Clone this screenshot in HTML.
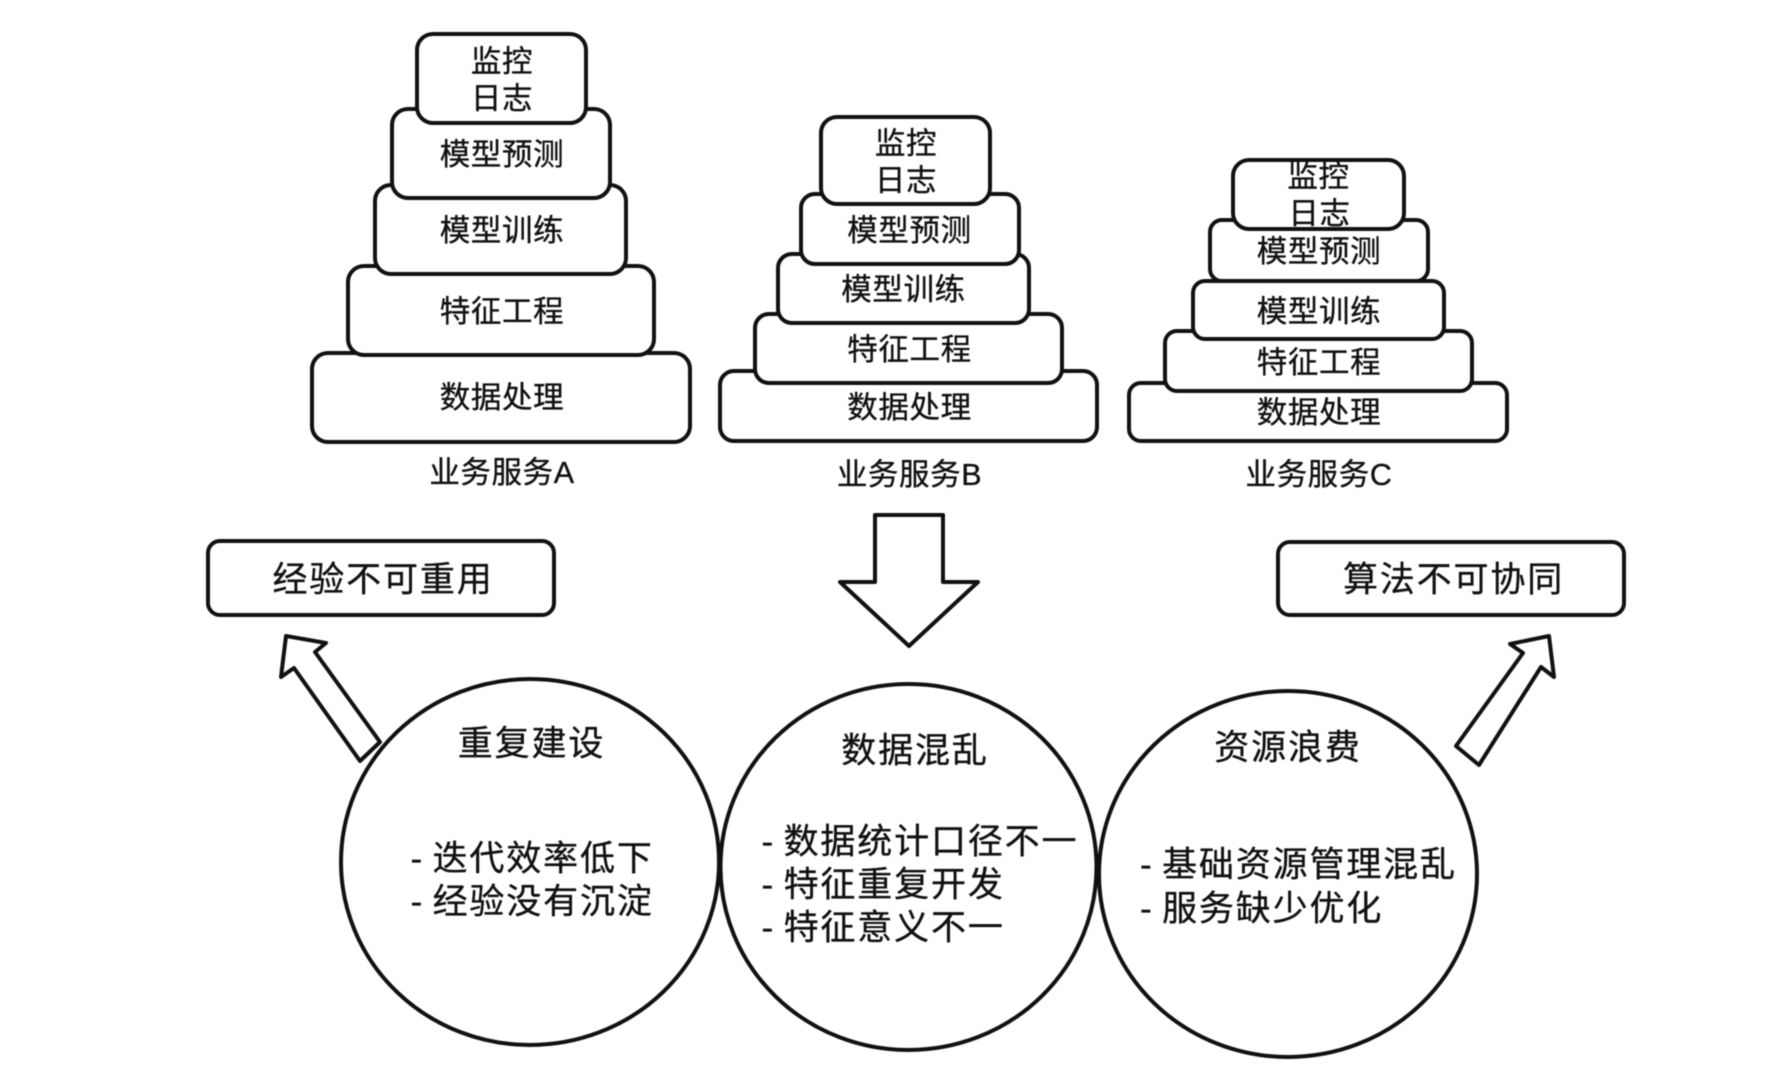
<!DOCTYPE html>
<html lang="zh">
<head>
<meta charset="utf-8">
<title>业务服务</title>
<style>
html,body{margin:0;padding:0;background:#fff;width:1778px;height:1086px;overflow:hidden}
svg{display:block;filter:blur(0.4px)}
text{font-family:"Liberation Sans","Noto Sans CJK SC",sans-serif;fill:#111;stroke:#111;stroke-width:.35px;dominant-baseline:central}
.s{font-size:30.5px;letter-spacing:.6px;text-anchor:middle}
.b{font-size:35px;letter-spacing:1.85px;word-spacing:-3px}
.m{text-anchor:middle}
rect,ellipse,polygon{fill:#fff;stroke:#111;stroke-width:4;stroke-linejoin:round}
</style>
</head>
<body>
<svg width="1778" height="1086" viewBox="0 0 1778 1086" xmlns="http://www.w3.org/2000/svg">
<rect x="0" y="0" width="1778" height="1086" style="stroke:none;fill:#fff"/>

<!-- Stack A -->
<rect x="312" y="353" width="378" height="89" rx="16"/>
<rect x="348" y="266" width="306" height="89" rx="16"/>
<rect x="375" y="185" width="251" height="89" rx="16"/>
<rect x="392" y="109" width="218" height="89" rx="16"/>
<rect x="417" y="34" width="169" height="89" rx="16"/>
<text class="s" x="502" y="62">监控</text>
<text class="s" x="502" y="99">日志</text>
<text class="s" x="502" y="155">模型预测</text>
<text class="s" x="502" y="231">模型训练</text>
<text class="s" x="502" y="312">特征工程</text>
<text class="s" x="502" y="398">数据处理</text>
<text class="s" x="502" y="473">业务服务A</text>

<!-- Stack B -->
<rect x="720" y="371" width="377" height="70" rx="14"/>
<rect x="755" y="314" width="307" height="69" rx="14"/>
<rect x="778" y="254" width="251" height="69" rx="14"/>
<rect x="801" y="194" width="218" height="70" rx="14"/>
<rect x="821" y="117" width="169" height="87" rx="16"/>
<text class="s" x="906" y="144">监控</text>
<text class="s" x="906" y="181">日志</text>
<text class="s" x="909.5" y="231">模型预测</text>
<text class="s" x="903.5" y="290">模型训练</text>
<text class="s" x="909.5" y="350">特征工程</text>
<text class="s" x="909.5" y="408">数据处理</text>
<text class="s" x="909.5" y="475">业务服务B</text>

<!-- Stack C -->
<rect x="1129" y="383" width="378" height="58" rx="12"/>
<rect x="1165" y="331" width="307" height="60" rx="12"/>
<rect x="1193" y="281" width="251" height="58" rx="12"/>
<rect x="1210" y="220" width="218" height="61" rx="12"/>
<rect x="1233" y="160" width="171" height="69" rx="16"/>
<text class="s" x="1318.5" y="177">监控</text>
<text class="s" x="1319.5" y="214">日志</text>
<text class="s" x="1319" y="252">模型预测</text>
<text class="s" x="1319" y="312">模型训练</text>
<text class="s" x="1319" y="363">特征工程</text>
<text class="s" x="1319" y="413">数据处理</text>
<text class="s" x="1319" y="475">业务服务C</text>

<!-- Outcome boxes -->
<rect x="208" y="541" width="346" height="74" rx="12"/>
<rect x="1278" y="542" width="346" height="73" rx="12"/>
<text class="b m" x="383" y="580">经验不可重用</text>
<text class="b m" x="1453.5" y="580">算法不可协同</text>

<!-- Arrows -->
<polygon points="875,515 943,515 943,582 978,582 909,646 840,582 875,582"/>
<polygon points="286,636 326,643 315,652 380,742 360,761 294,668 281,677"/>
<polygon points="1549,636 1510,644 1523,653 1456,746 1479,765 1541,667 1554,677"/>

<!-- Circles -->
<ellipse cx="530" cy="862" rx="189" ry="183"/>
<ellipse cx="908.5" cy="867" rx="188" ry="183"/>
<ellipse cx="1288" cy="874" rx="189" ry="183"/>

<!-- Circle text -->
<text class="b m" x="531.5" y="744">重复建设</text>
<text class="b" x="410.5" y="859">- 迭代效率低下</text>
<text class="b" x="410.5" y="902">- 经验没有沉淀</text>

<text class="b m" x="915" y="751">数据混乱</text>
<text class="b" x="761.5" y="842">- 数据统计口径不一</text>
<text class="b" x="761.5" y="885">- 特征重复开发</text>
<text class="b" x="761.5" y="928">- 特征意义不一</text>

<text class="b m" x="1288" y="748">资源浪费</text>
<text class="b" x="1140" y="865">- 基础资源管理混乱</text>
<text class="b" x="1140" y="909">- 服务缺少优化</text>
</svg>
</body>
</html>
